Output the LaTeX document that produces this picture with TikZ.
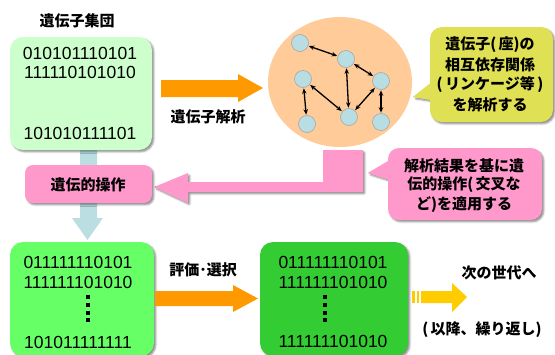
\documentclass[tikz,border=0pt]{standalone}
\usepackage{fontspec}
\newfontfamily\jp{Noto Sans CJK JP}
\newfontfamily\dig{Liberation Sans}
\usetikzlibrary{arrows.meta,shadows.blur}
\definecolor{lgreen}{HTML}{CCFFCC}
\definecolor{mgreen}{HTML}{66FF66}
\definecolor{dgreen}{HTML}{33CC33}
\definecolor{pinkc}{HTML}{FF99CC}
\definecolor{peach}{HTML}{FFCC99}
\definecolor{yellowc}{HTML}{E0E055}
\definecolor{orangec}{HTML}{FF9900}
\definecolor{goldc}{HTML}{FFCC00}
\definecolor{bluec}{HTML}{BADEE2}
\definecolor{nodec}{HTML}{B8DDE3}
\tikzset{
  shad/.style={blur shadow={shadow xshift=1.8pt,shadow yshift=-1.8pt,shadow blur steps=4,shadow blur extra rounding=1pt,shadow opacity=45}},
  jlabel/.style={font=\jp\bfseries\fontsize{15}{19}\selectfont,inner sep=0pt,align=center},
  digits/.style={font=\dig\fontsize{17.5}{20}\selectfont,inner sep=0pt},
  gnode/.style={circle,fill=nodec,draw=gray!70,line width=0.6pt,minimum size=17pt,inner sep=0pt},
  glink/.style={{Stealth[length=5.5pt,width=4.5pt]}-{Stealth[length=5.5pt,width=4.5pt]},line width=1.3pt,shorten <=0.5pt,shorten >=0.5pt},
  vdot/.style={fill=black}
}
\begin{document}
\begin{tikzpicture}[x=1pt,y=-1pt]
\useasboundingbox (0,0) rectangle (555,354);
% blue down arrow
\fill[bluec] (80,150) -- (97,150) -- (97,218) -- (103,218) -- (87.5,240) -- (72,218) -- (80,218) -- cycle;
% title
\node[jlabel] (title) at (77,21) {遺伝子集団};
% top-left box
\fill[lgreen,rounded corners=13pt,shad] (10,37) rectangle (152,150);
\node[digits] (a1) at (80,53) {010101110101};
\node[digits] (a2) at (80,72) {111110101010};
\node[digits] (a3) at (80,133) {101010111101};
% orange arrow top
\fill[orangec] (161,80) -- (238,80) -- (238,74) -- (263,88) -- (238,102) -- (238,97) -- (161,97) -- cycle;
\node[jlabel] (lab1) at (208,117) {遺伝子解析};
% ellipse
\fill[peach] (340,82) ellipse [x radius=72, y radius=65];
\node[gnode] (n1) at (300,43) {};
\node[gnode] (n2) at (346,59) {};
\node[gnode] (n3) at (303,79) {};
\node[gnode] (n4) at (381,81) {};
\node[gnode] (n5) at (307,124) {};
\node[gnode] (n6) at (349,117) {};
\node[gnode] (n7) at (381,122) {};
\draw[glink] (n1) -- (n2);
\draw[glink] (n2) -- (n4);
\draw[glink] (n2) -- (n6);
\draw[glink] (n3) -- (n5);
\draw[glink] (n3) -- (n6);
\draw[glink] (n6) -- (n4);
\draw[glink] (n4) -- (n7);
% yellow callout
\fill[yellowc,shad] (413,97) -- (432,82) -- (432,100) -- cycle;
\fill[yellowc,rounded corners=12pt,shad] (430,27) rectangle (553,122);
\fill[yellowc] (413,97) -- (432,82) -- (432,100) -- cycle;
\node[jlabel] (c1) at (490,45) {遺伝子(\,座)の};
\node[jlabel] (c2) at (490,65) {相互依存関係};
\node[jlabel] (c3) at (490,85) {(\,リンケージ等\,)};
\node[jlabel] (c4) at (490,105) {を解析する};
% pink bent arrow
\fill[pinkc,shad] (363,150) -- (363,192) -- (188,192) -- (188,203) -- (154,187) -- (188,173) -- (188,182) -- (323,182) -- (323,150) -- cycle;
% pink box
\fill[pinkc,rounded corners=8pt,shad] (25,165) rectangle (152,203);
\node[jlabel] (op) at (88,185) {遺伝的操作};
% pink callout
\fill[pinkc,shad] (368,173) -- (390,160) -- (390,180) -- cycle;
\fill[pinkc,rounded corners=11pt,shad] (388,148) rectangle (542,220);
\fill[pinkc] (368,173) -- (390,160) -- (390,180) -- cycle;
\node[jlabel] (p1) at (464,166) {解析結果を基に遺};
\node[jlabel] (p2) at (464,185) {伝的操作(\,交叉な};
\node[jlabel] (p3) at (464,205) {ど)を適用する};
% bottom-left box
\fill[mgreen,rounded corners=13pt,shad] (10,242) rectangle (154,356);
\node[digits] (b1) at (78,262) {011111110101};
\node[digits] (b2) at (78,282) {111111101010};
\node[digits] (b3) at (78,342) {101011111111};
\foreach \yy in {297,305,313,320} \fill[vdot] (86.3,\yy-1.8) rectangle (90.3,\yy+1.8);
% bottom orange arrow
\fill[orangec] (155,291) -- (233,291) -- (233,285) -- (258,298.5) -- (233,312) -- (233,306) -- (155,306) -- cycle;
\node[jlabel] (lab2) at (203,270) {評価･選択};
% bottom right box
\fill[dgreen,rounded corners=13pt,shad] (260,242) rectangle (408,356);
\node[digits] (d1) at (333,262) {011111110101};
\node[digits] (d2) at (333,282) {111111101010};
\node[digits] (d3) at (333,341) {111111101010};
\foreach \yy in {297,305,313,320} \fill[vdot] (323,\yy-1.8) rectangle (327,\yy+1.8);
% yellow arrow with stripes
\fill[goldc] (412,291) rectangle (414.5,303);
\fill[goldc] (416.5,291) rectangle (419,303);
\fill[goldc] (421,291) -- (452,291) -- (452,283) -- (467,297) -- (452,312) -- (452,303) -- (421,303) -- cycle;
\node[jlabel] (nx) at (499,273) {次の世代へ};
\node[jlabel] (rp) at (482,330) {(\,以降、繰り返し)};
\end{tikzpicture}
\end{document}
